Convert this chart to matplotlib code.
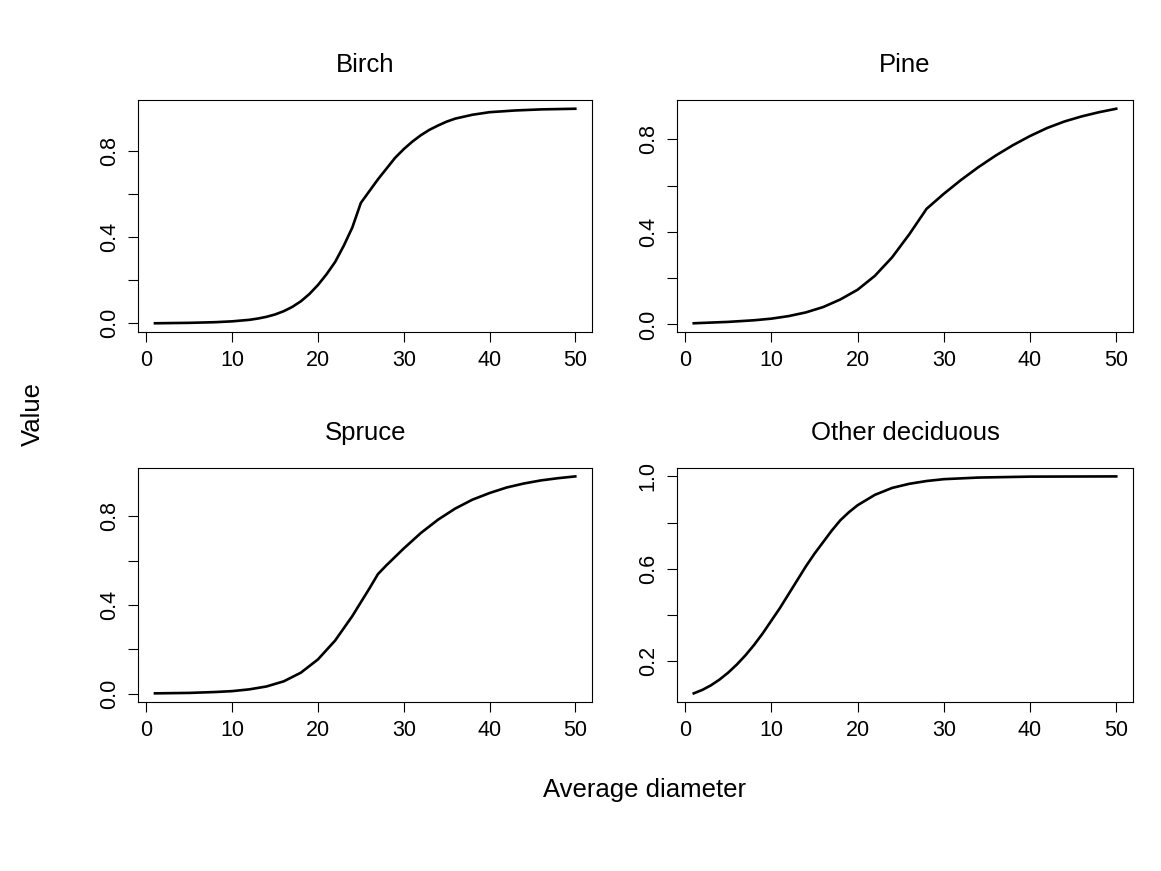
import matplotlib
matplotlib.use("Agg")
import matplotlib.pyplot as plt

plt.rcParams['font.family'] = ['Liberation Sans', 'DejaVu Sans']

titles = ["Birch", "Pine", "Spruce", "Other deciduous"]

birch_x = [1, 5, 8, 10, 12, 13, 14, 15, 16, 17, 18, 19, 20, 21, 22, 23, 24, 25, 26, 27, 28, 29, 30, 31, 32, 33, 34, 35, 36, 38, 40, 43, 46, 50]
birch_y = [0.0, 0.002, 0.005, 0.009, 0.016, 0.022, 0.030, 0.041, 0.056, 0.076, 0.102, 0.136, 0.178, 0.228, 0.285, 0.36, 0.445, 0.56, 0.615, 0.67, 0.72, 0.77, 0.81, 0.845, 0.875, 0.90, 0.92, 0.938, 0.952, 0.97, 0.982, 0.99, 0.995, 0.998]

pine_x = [1, 5, 8, 10, 12, 14, 16, 18, 20, 22, 24, 26, 28, 30, 32, 34, 36, 38, 40, 42, 44, 46, 48, 50]
pine_y = [0.005, 0.011, 0.018, 0.025, 0.036, 0.052, 0.075, 0.108, 0.15, 0.21, 0.29, 0.39, 0.50, 0.565, 0.625, 0.68, 0.73, 0.775, 0.815, 0.85, 0.878, 0.9, 0.918, 0.933]

spruce_x = [1, 5, 8, 10, 12, 14, 16, 18, 20, 22, 24, 26, 27, 28, 30, 32, 34, 36, 38, 40, 42, 44, 46, 48, 50]
spruce_y = [0.002, 0.004, 0.008, 0.012, 0.02, 0.033, 0.056, 0.095, 0.155, 0.24, 0.35, 0.475, 0.54, 0.58, 0.655, 0.725, 0.785, 0.835, 0.875, 0.905, 0.93, 0.948, 0.962, 0.972, 0.98]

other_x = [1, 2, 3, 4, 5, 6, 7, 8, 9, 10, 11, 12, 13, 14, 15, 16, 17, 18, 19, 20, 22, 24, 26, 28, 30, 34, 40, 50]
other_y = [0.06, 0.075, 0.095, 0.12, 0.15, 0.185, 0.225, 0.27, 0.32, 0.375, 0.43, 0.49, 0.55, 0.61, 0.665, 0.715, 0.765, 0.81, 0.845, 0.875, 0.92, 0.95, 0.968, 0.98, 0.988, 0.995, 0.999, 1.0]

series = [(birch_x, birch_y), (pine_x, pine_y), (spruce_x, spruce_y), (other_x, other_y)]

yticks = [
    ([0, 0.2, 0.4, 0.6, 0.8], ["0.0", "", "0.4", "", "0.8"]),
    ([0, 0.2, 0.4, 0.6, 0.8], ["0.0", "", "0.4", "", "0.8"]),
    ([0, 0.2, 0.4, 0.6, 0.8], ["0.0", "", "0.4", "", "0.8"]),
    ([0.2, 0.4, 0.6, 0.8, 1.0], ["0.2", "", "0.6", "", "1.0"]),
]

fig = plt.figure(figsize=(11.61, 8.71), dpi=100)
positions = [
    [0.119, 0.619, 0.391, 0.266],
    [0.583, 0.619, 0.393, 0.266],
    [0.119, 0.194, 0.391, 0.269],
    [0.583, 0.194, 0.393, 0.269],
]

for i, (x, y) in enumerate(series):
    ax = fig.add_axes(positions[i])
    ax.plot(x, y, color='black', lw=1.9)
    lo, hi = min(y), max(y)
    pad = (hi - lo) * 0.04
    ax.set_ylim(lo - pad, hi + pad)
    ax.set_xlim(1 - 49 * 0.04, 50 + 49 * 0.04)
    ax.set_xticks([0, 10, 20, 30, 40, 50])
    ax.set_yticks(yticks[i][0])
    ax.set_yticklabels(yticks[i][1], rotation=90, va='center')
    ax.tick_params(labelsize=15.5, direction='out', length=7, pad=6)
    ax.set_title(titles[i], fontsize=18.5, pad=20)
    for s in ax.spines.values():
        s.set_linewidth(0.8)

fig.text(0.555, 0.085, "Average diameter", ha='center', fontsize=18.5)
fig.text(0.018, 0.525, "Value", rotation=90, va='center', fontsize=18.5)

fig.savefig("out.png", dpi=100)
